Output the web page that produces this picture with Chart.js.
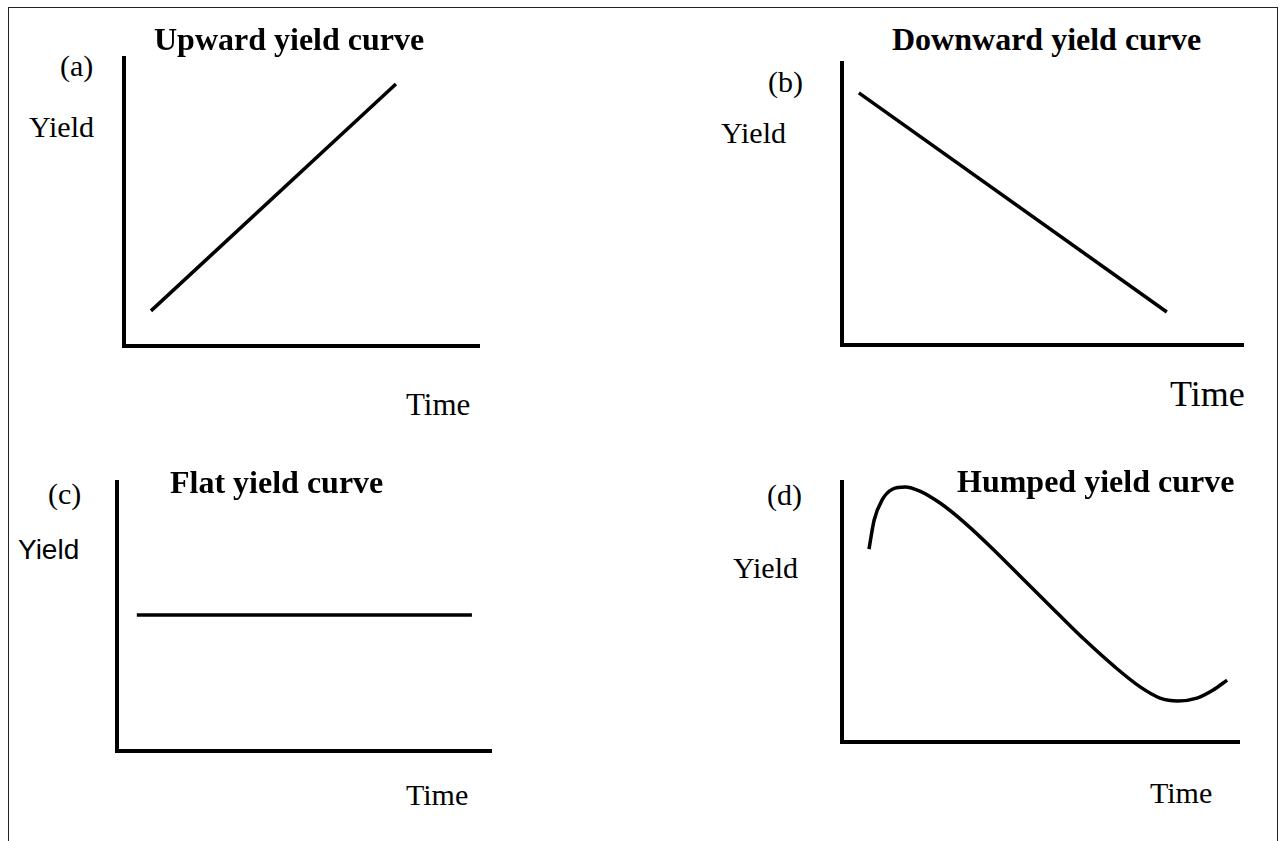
<!DOCTYPE html>
<html>
<head>
<meta charset="utf-8">
<script src="https://cdn.jsdelivr.net/npm/chart.js@4.4.1/dist/chart.umd.min.js"></script>
<style>
  html, body { margin: 0; padding: 0; background: #fff; }
  body { width: 1283px; height: 841px; position: relative; overflow: hidden; }
  #frame { position: absolute; left: 8px; top: 7px; width: 1268px; height: 900px;
           border-left: 1px solid #222; border-top: 1px solid #222; border-right: 1px solid #222; }
  .box { position: absolute; }
  .box canvas { display: block; }
  .t { position: absolute; white-space: nowrap; color: #000; line-height: 1; }
  .serif { font-family: "Liberation Serif", "Times New Roman", serif; }
  .bold { font-weight: bold; font-size: 32px; }
  .reg { font-size: 30px; }
  .sans { font-family: "Liberation Sans", Arial, sans-serif; font-size: 28px; }
</style>
</head>
<body>
<div id="frame"></div>

<div class="box" id="boxA" style="left:118px; top:52px;"><canvas id="chartA"></canvas></div>
<div class="box" id="boxB" style="left:836px; top:57px;"><canvas id="chartB"></canvas></div>
<div class="box" id="boxC" style="left:111px; top:476px;"><canvas id="chartC"></canvas></div>
<div class="box" id="boxD" style="left:836px; top:476px;"><canvas id="chartD"></canvas></div>

<div class="t serif bold" id="titleA" style="left:154px; top:23px;"></div>
<div class="t serif reg" id="tagA" style="left:60px; top:51px;"></div>
<div class="t serif reg" id="yA" style="left:29px; top:112px;"></div>
<div class="t serif" id="xA" style="left:406px; top:389px; font-size:31px;"></div>

<div class="t serif bold" id="titleB" style="left:892px; top:23px;"></div>
<div class="t serif reg" id="tagB" style="left:768px; top:67px;"></div>
<div class="t serif reg" id="yB" style="left:721px; top:118px;"></div>
<div class="t serif" id="xB" style="left:1170px; top:376px; font-size:36px;"></div>

<div class="t serif bold" id="titleC" style="left:170px; top:466px;"></div>
<div class="t serif reg" id="tagC" style="left:48px; top:479px;"></div>
<div class="t sans" id="yC" style="left:18px; top:536px;"></div>
<div class="t serif reg" id="xC" style="left:406px; top:780px;"></div>

<div class="t serif bold" id="titleD" style="left:957px; top:465px;"></div>
<div class="t serif reg" id="tagD" style="left:767px; top:480px;"></div>
<div class="t serif reg" id="yD" style="left:733px; top:553px;"></div>
<div class="t serif reg" id="xD" style="left:1150px; top:778px;"></div>

<script>
// ---- data (arbitrary units, axes 0..100) ----
const titles = ["Upward yield curve", "Downward yield curve", "Flat yield curve", "Humped yield curve"];
const panelTags = ["(a)", "(b)", "(c)", "(d)"];
const yAxisLabel = "Yield";
const xAxisLabel = "Time";

const upwardTime  = [7.6, 76.6];
const upwardYield = [12.2, 91.0];

const downwardTime  = [4.2, 81.0];
const downwardYield = [89.4, 11.7];

const flatTime  = [5.3, 94.9];
const flatYield = [50.6, 50.6];

const humpedTime  = [6.8, 8.1, 10.1, 12.8, 15.9, 19.6, 24.7, 31.0, 38.5, 46.1, 53.7, 61.2, 68.8, 75.1, 80.1, 84.6, 89.4, 93.5, 97.0];
const humpedYield = [74.2, 85.4, 93.1, 97.3, 98.1, 96.5, 91.9, 84.2, 73.5, 61.9, 50.4, 39.2, 28.8, 21.2, 16.9, 15.8, 16.9, 20.0, 23.8];

// ---- text ----
["A","B","C","D"].forEach((k, i) => {
  document.getElementById("title" + k).textContent = titles[i];
  document.getElementById("tag" + k).textContent = panelTags[i];
  document.getElementById("y" + k).textContent = yAxisLabel;
  document.getElementById("x" + k).textContent = xAxisLabel;
});

// ---- charts ----
const PAD = 6;
function makeChart(id, areaW, areaH, xs, ys, smooth) {
  const canvas = document.getElementById(id);
  const w = areaW + 2 * PAD, h = areaH + 2 * PAD;
  canvas.width = w; canvas.height = h;
  canvas.style.width = w + "px"; canvas.style.height = h + "px";
  const pts = xs.map((x, i) => ({ x: x, y: ys[i] }));
  const axis = (isY) => ({
    type: "linear",
    min: 0, max: 100,
    display: true,
    grid: { display: false, drawTicks: false },
    ticks: { display: false },
    border: { display: true, color: "#000", width: 4 },
    afterFit: (s) => { if (isY) s.width = 0; else s.height = 0; }
  });
  return new Chart(canvas, {
    type: "line",
    data: {
      datasets: [{
        data: pts,
        borderColor: "#000",
        borderWidth: 3.5,
        pointRadius: 0,
        fill: false,
        tension: smooth ? 0.4 : 0,
        cubicInterpolationMode: smooth ? "monotone" : "default",
        borderCapStyle: "butt",
        borderJoinStyle: "round"
      }]
    },
    options: {
      responsive: false,
      animation: false,
      devicePixelRatio: 1,
      layout: { padding: PAD },
      plugins: { legend: { display: false }, tooltip: { enabled: false }, title: { display: false } },
      scales: { x: axis(false), y: axis(true) }
    }
  });
}

makeChart("chartA", 355, 288, upwardTime, upwardYield, false);
makeChart("chartB", 401, 282, downwardTime, downwardYield, false);
makeChart("chartC", 374, 269, flatTime, flatYield, false);
makeChart("chartD", 397, 260, humpedTime, humpedYield, true);
</script>
</body>
</html>
